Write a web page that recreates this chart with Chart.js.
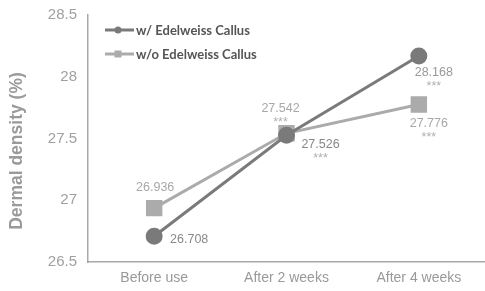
<!DOCTYPE html>
<html><head><meta charset="utf-8">
<script src="https://cdn.jsdelivr.net/npm/chart.js@4"></script>
<style>html,body{margin:0;padding:0;background:#fff;overflow:hidden}#w{width:485px;height:291px;position:relative}</style>
</head><body><div id="w"><canvas id="c"></canvas></div>
<script>
const categories = ["Before use", "After 2 weeks", "After 4 weeks"];
const withCallus = [26.708, 27.526, 28.168];
const withoutCallus = [26.936, 27.542, 27.776];
const seriesNames = ["w/ Edelweiss Callus", "w/o Edelweiss Callus"];
const yTicks = [26.5, 27, 27.5, 28, 28.5];
const sigMarks = ["", "***", "***"];
const yTitle = "Dermal density (%)";

const DARK = "#7a7a7a", LIGHT = "#ababab";

const labelPlugin = {
  id: "labels",
  afterDatasetsDraw(chart) {
    const ctx = chart.ctx;
    ctx.save();
    ctx.font = "12.5px 'Liberation Sans', Arial, sans-serif";
    ctx.textBaseline = "middle";
    const m1 = chart.getDatasetMeta(1).data;
    const m0 = chart.getDatasetMeta(0).data;
    const fmt = v => v.toFixed(3);
    const drawLbl = (txt, x, y, color, sig) => {
      ctx.fillStyle = color;
      ctx.textAlign = "center";
      ctx.fillText(txt, x, y);
      if (sig) { ctx.fillStyle = "#b0b0b0"; ctx.fillText(sig, x, y + 14); }
    };
    drawLbl(fmt(withoutCallus[0]), m1[0].x + 1, m1[0].y - 21, "#a8a8a8", sigMarks[0]);
    drawLbl(fmt(withoutCallus[1]), m1[1].x - 6, m1[1].y - 25, "#a8a8a8", sigMarks[1]);
    drawLbl(fmt(withoutCallus[2]), m1[2].x + 10, m1[2].y + 19, "#a8a8a8", sigMarks[2]);
    drawLbl(fmt(withCallus[0]), m0[0].x + 35, m0[0].y + 3, "#888888", sigMarks[0]);
    drawLbl(fmt(withCallus[1]), m0[1].x + 34, m0[1].y + 9, "#888888", sigMarks[1]);
    drawLbl(fmt(withCallus[2]), m0[2].x + 15, m0[2].y + 17, "#999999", sigMarks[2]);
    // legend
    const items = [[DARK, "circle"], [LIGHT, "rect"]];
    ctx.font = "bold 13px Lato, 'Open Sans', sans-serif";
    items.forEach((it, i) => {
      const y = 30 + i * 24;
      ctx.strokeStyle = it[0]; ctx.lineWidth = 3;
      ctx.beginPath(); ctx.moveTo(105, y); ctx.lineTo(134, y); ctx.stroke();
      ctx.fillStyle = it[0];
      if (it[1] === "circle") { ctx.beginPath(); ctx.arc(118, y, 3.5, 0, Math.PI * 2); ctx.fill(); }
      else ctx.fillRect(114.5, y - 3.5, 7, 7);
      ctx.fillStyle = "#555"; ctx.textAlign = "left";
      ctx.fillText(seriesNames[i], 136, y + 1);
    });
    // y title
    ctx.translate(17, 151);
    ctx.rotate(-Math.PI / 2);
    ctx.font = "bold 17.5px 'Liberation Sans', Arial, sans-serif";
    ctx.fillStyle = "#9a9a9a";
    ctx.textAlign = "center";
    ctx.fillText(yTitle, 0, 0);
    ctx.restore();
  }
};

new Chart(document.getElementById("c"), {
  type: "line",
  data: {
    labels: categories,
    datasets: [
      { label: seriesNames[0], data: withCallus, borderColor: DARK, backgroundColor: DARK,
        borderWidth: 3, pointStyle: "circle", pointRadius: 7, tension: 0 },
      { label: seriesNames[1], data: withoutCallus, borderColor: LIGHT, backgroundColor: LIGHT,
        borderWidth: 3, pointStyle: "rect", pointRadius: 9.5, tension: 0 }
    ]
  },
  options: {
    responsive: true, maintainAspectRatio: false, animation: false,
    layout: { autoPadding: false, padding: { top: 15, right: -3, bottom: 0, left: 0 } },
    plugins: { legend: { display: false }, tooltip: { enabled: false } },
    scales: {
      x: {
        offset: true,
        grid: { display: false, drawTicks: false },
        border: { color: "#a8a8a8", width: 1.5 },
        ticks: { color: "#999", padding: 8, font: { size: 14, family: "'Liberation Sans', Arial, sans-serif" } },
        afterFit(s) { s.height = 29; s.paddingLeft = 0; s.paddingRight = 0; }
      },
      y: {
        min: 26.5, max: 28.5,
        afterBuildTicks(s) { s.ticks = yTicks.map(v => ({ value: v })); },
        grid: { display: false, drawOnChartArea: false, drawTicks: true, tickLength: 5, tickColor: "#a8a8a8" },
        border: { color: "#a8a8a8", width: 1.5 },
        ticks: { color: "#a0a0a0", padding: 6, font: { size: 15, family: "'Liberation Sans', Arial, sans-serif" },
          callback: v => String(v) },
        title: { display: false },
        afterFit(s) { s.width = 88; s.paddingTop = 0; s.paddingBottom = 0; }
      }
    }
  },
  plugins: [labelPlugin]
});
</script></body></html>
